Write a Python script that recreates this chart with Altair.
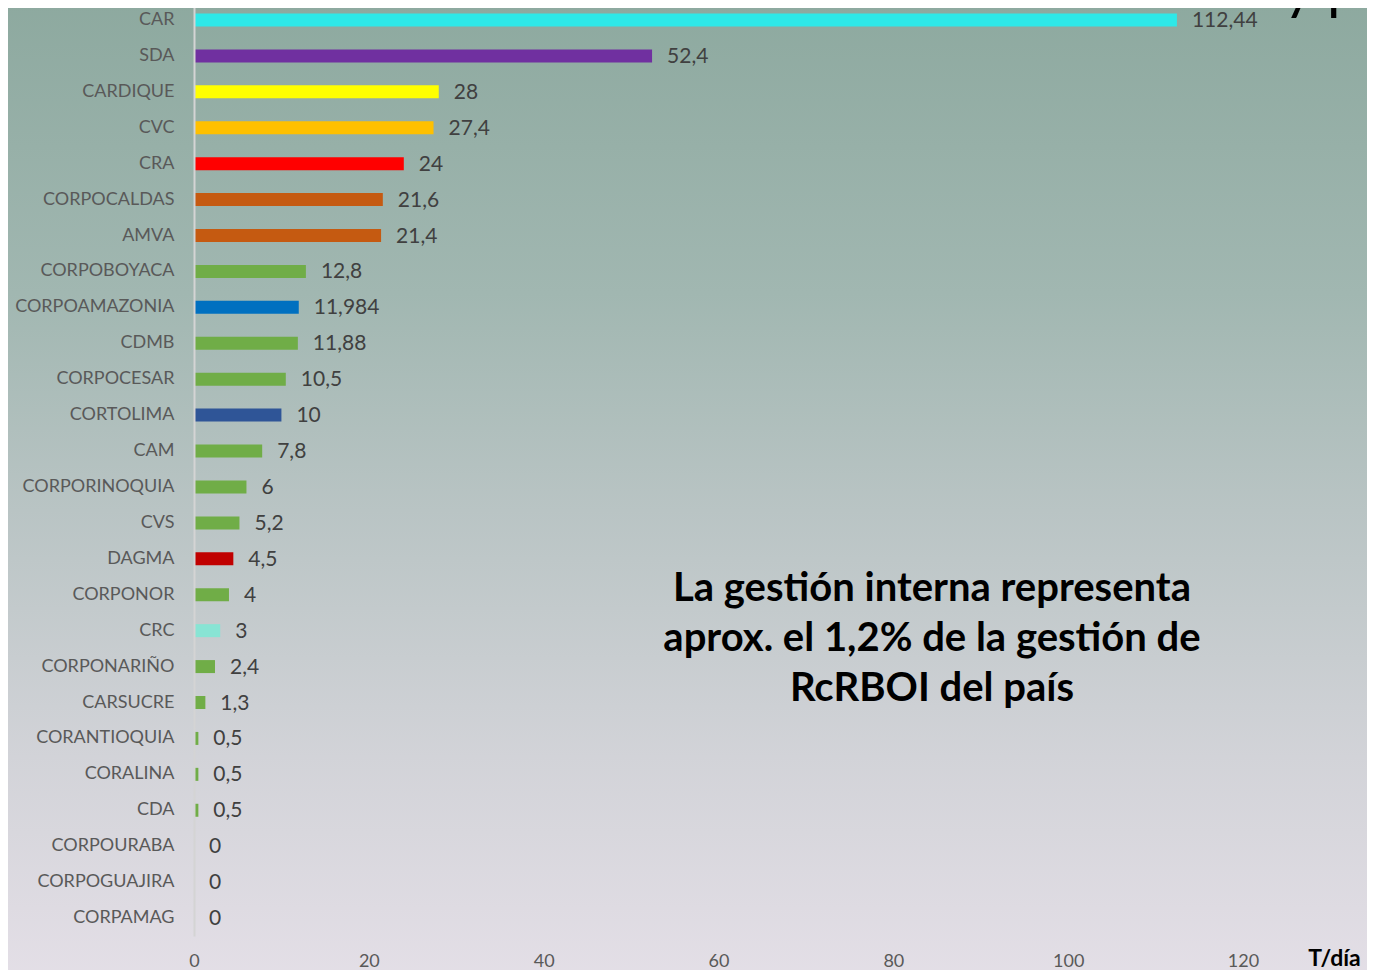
import altair as alt
import pandas as pd

entities = ["CAR", "SDA", "CARDIQUE", "CVC", "CRA", "CORPOCALDAS", "AMVA",
            "CORPOBOYACA", "CORPOAMAZONIA", "CDMB", "CORPOCESAR", "CORTOLIMA",
            "CAM", "CORPORINOQUIA", "CVS", "DAGMA", "CORPONOR", "CRC",
            "CORPONARIÑO", "CARSUCRE", "CORANTIOQUIA", "CORALINA", "CDA",
            "CORPOURABA", "CORPOGUAJIRA", "CORPAMAG"]
values = [112.44, 52.4, 28, 27.4, 24, 21.6, 21.4, 12.8, 11.984, 11.88, 10.5, 10,
          7.8, 6, 5.2, 4.5, 4, 3, 2.4, 1.3, 0.5, 0.5, 0.5, 0, 0, 0]
colors = ["#2ee8e8", "#7030a0", "#ffff00", "#ffc000", "#ff0000", "#c55a11", "#c55a11",
          "#70ad47", "#0070c0", "#70ad47", "#70ad47", "#2f5597",
          "#70ad47", "#70ad47", "#70ad47", "#c00000", "#70ad47", "#88e4d4",
          "#70ad47", "#70ad47", "#70ad47", "#70ad47", "#70ad47",
          "#70ad47", "#70ad47", "#70ad47"]
x_ticks = [0, 20, 40, 60, 80, 100, 120]
annotation = ["La gestión interna representa", "aprox. el 1,2% de la gestión de", "RcRBOI del país"]
title_fragment = "licencias y permisos"

df = pd.DataFrame({"entidad": entities, "valor": values, "color": colors})

W, H = 1049, 925
FONT = "Lato"

bg = alt.Chart(pd.DataFrame({"a": [0]})).mark_rect(
    fill=alt.LinearGradient(
        gradient="linear", x1=0, y1=0, x2=0, y2=1,
        stops=[alt.GradientStop(color="#8da99f", offset=0),
               alt.GradientStop(color="#a1b7b1", offset=0.3),
               alt.GradientStop(color="#b9c4c4", offset=0.52),
               alt.GradientStop(color="#d2d3d8", offset=0.77),
               alt.GradientStop(color="#e4dfe7", offset=1)]),
    clip=False,
).encode(x=alt.value(-200), x2=alt.value(W + 200), y=alt.value(-10), y2=alt.value(H + 50))

yscale = alt.Scale(domain=entities, range=[-6, 928], paddingInner=0, paddingOuter=0)
xscale = alt.Scale(domain=[0, 120], nice=False)

bars = alt.Chart(df).mark_bar(size=13).encode(
    y=alt.Y("entidad:N", sort=entities, scale=yscale,
            axis=alt.Axis(title=None, labelFont=FONT, labelFontSize=18, labelColor="#595959",
                          labelPadding=20, ticks=False, domainColor="#d4d4d4", domainWidth=2,
                          minExtent=181, maxExtent=181, zindex=2)),
    x=alt.X("valor:Q", scale=xscale,
            axis=alt.Axis(values=x_ticks, title="T/día", labelFont=FONT, labelFontSize=18,
                          labelColor="#595959", labelPadding=19, ticks=False, domain=False,
                          grid=False, titleFont=FONT, titleFontSize=23, titleFontWeight="bold",
                          titleColor="#000000", titleX=1140, titleY=25, titleAlign="center",
                          titleBaseline="middle", labelFlush=False, zindex=2)),
    color=alt.Color("color:N", scale=None),
)

labels = alt.Chart(df).transform_calculate(
    lbl="replace(toString(datum.valor), '.', ',')"
).mark_text(align="left", baseline="middle", dx=15, dy=1, font=FONT, fontSize=21,
            color="#404040").encode(
    y=alt.Y("entidad:N", sort=entities, scale=yscale),
    x=alt.X("valor:Q", scale=xscale),
    text="lbl:N",
)

note = alt.Chart(pd.DataFrame({"t": [annotation]})).mark_text(
    align="center", baseline="middle", font=FONT, fontSize=40, fontWeight="bold",
    color="#000000", lineHeight=50,
).encode(x=alt.value(738), y=alt.value(581), text="t")

title_txt = alt.Chart(pd.DataFrame({"t": [title_fragment]})).mark_text(
    align="left", baseline="alphabetic", font=FONT, fontSize=58, color="#000000", clip=False,
).encode(x=alt.value(863), y=alt.value(0), text="t:N")

chart = alt.layer(bg, bars, labels, note, title_txt).properties(
    width=W, height=H,
    autosize=alt.AutoSizeParams(type="none"),
    padding={"left": 186, "top": 0, "right": 124, "bottom": 37},
    background="#e4dfe7",
).configure_view(stroke=None)

chart.save("out.html", embed_options={"renderer": "svg", "actions": False})
